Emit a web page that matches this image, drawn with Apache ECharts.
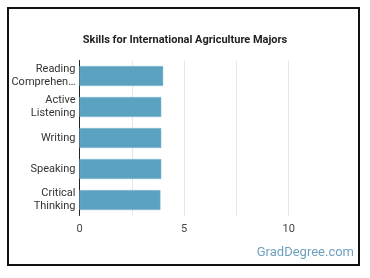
<!DOCTYPE html>
<html><head><meta charset="utf-8">
<script src="https://cdn.jsdelivr.net/npm/echarts@6/dist/echarts.min.js"></script>
<style>html,body{margin:0;padding:0;background:#fff}#c{width:370px;height:278px}</style>
</head><body><div id="c"></div>
<script>
var categories = ['Reading\nComprehen…', 'Active\nListening', 'Writing', 'Speaking', 'Critical\nThinking'];
var values = [4.0, 3.91, 3.91, 3.91, 3.87];
var xTicks = [0, 5, 10];

var chart = echarts.init(document.getElementById('c'));
chart.setOption({
  animation: false,
  title: {
    text: 'Skills for International Agriculture Majors',
    left: 'center', top: 30,
    textStyle: {fontFamily: 'Roboto', fontSize: 11, fontWeight: 'bold', color: '#222'}
  },
  graphic: [
    {type: 'rect', shape: {x: 8, y: 8, width: 351, height: 257}, style: {fill: 'none', stroke: '#111', lineWidth: 2}, z: 10},
    {type: 'text', right: 16, top: 246, style: {text: 'GradDegree.com', fill: '#6f9fbd', font: '13px Roboto'}}
  ],
  grid: {left: 79.5, right: 29, top: 60.5, bottom: 62.5, containLabel: false},
  xAxis: {
    type: 'value', min: 0, max: 12.5, interval: 2.5,
    axisLine: {show: false}, axisTick: {show: false},
    splitLine: {show: true, showMaxLine: false, lineStyle: {color: '#e6e6e6', width: 1}},
    axisLabel: {
      fontFamily: 'Roboto', fontSize: 11, color: '#444', margin: 8,
      formatter: function (v) { return xTicks.indexOf(v) >= 0 ? String(v) : ''; }
    }
  },
  yAxis: {
    type: 'category', data: categories, inverse: true,
    axisLine: {show: true, lineStyle: {color: '#222', width: 1}},
    axisTick: {show: false},
    axisLabel: {fontFamily: 'Roboto', fontSize: 11, color: '#333', margin: 4, lineHeight: 13, align: 'right'}
  },
  series: [{
    type: 'bar', data: values, barWidth: 20,
    itemStyle: {color: '#5ba1c0', borderColor: '#8bbfd6', borderWidth: 0.5}
  }]
});
</script></body></html>
